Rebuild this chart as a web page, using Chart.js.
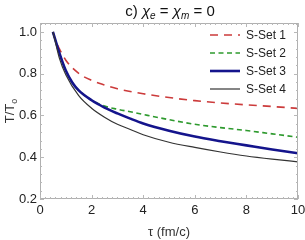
<!DOCTYPE html>
<html>
<head>
<meta charset="utf-8">
<script src="https://cdn.jsdelivr.net/npm/chart.js@4"></script>
<style>
  html, body { margin: 0; padding: 0; background: #fff; }
  #wrap { width: 305px; height: 240px; position: relative; }
</style>
</head>
<body>
<div id="wrap"><canvas id="chart" width="305" height="240"></canvas></div>
<script>
// data
const seriesNames = ["S-Set 1", "S-Set 2", "S-Set 3", "S-Set 4"];
const tauSet1 = [0.5, 0.6, 0.75, 1, 1.5, 2, 2.5, 3, 3.5, 4, 5, 6, 7, 8, 9, 10];
const tempSet1 = [1.0, 0.96, 0.92, 0.865, 0.802, 0.768, 0.746, 0.728, 0.715, 0.704, 0.686, 0.671, 0.66, 0.651, 0.643, 0.634];
const tauSet2 = [0.5, 0.6, 0.75, 1, 1.25, 1.5, 2, 2.5, 3, 3.5, 4, 5, 6, 7, 8, 9, 10];
const tempSet2 = [1.0, 0.96, 0.9, 0.815, 0.758, 0.72, 0.673, 0.645, 0.63, 0.618, 0.605, 0.58, 0.558, 0.542, 0.528, 0.512, 0.496];
const tauSet3 = [0.5, 0.6, 0.75, 1, 1.25, 1.5, 2, 2.5, 3, 3.5, 4, 5, 6, 7, 8, 9, 10];
const tempSet3 = [1.0, 0.96, 0.9, 0.815, 0.758, 0.72, 0.673, 0.638, 0.61, 0.585, 0.562, 0.527, 0.499, 0.477, 0.457, 0.437, 0.419];
const tauSet4 = [0.5, 0.6, 0.75, 1, 1.5, 2, 2.5, 3, 3.5, 4, 5, 6, 7, 8, 9, 10];
const tempSet4 = [1.0, 0.95, 0.875, 0.795, 0.695, 0.635, 0.592, 0.558, 0.533, 0.508, 0.472, 0.447, 0.425, 0.406, 0.391, 0.378];
const xTicks = [0, 2, 4, 6, 8, 10];
const yTicks = [0.2, 0.4, 0.6, 0.8, 1.0];

const FONT = "'Liberation Sans', Arial, sans-serif";

function pts(xs, ys) {
    return xs.map((x, i) => ({ x: x, y: ys[i] }));
}

// frame, inner ticks, title, axis labels and legend
const decor = {
    id: "decor",
    afterDraw(chart) {
        const ctx = chart.ctx;
        const a = chart.chartArea;
        const xs = chart.scales.x, ys = chart.scales.y;
        ctx.save();

        // frame
        ctx.strokeStyle = "#b0b0b0";
        ctx.lineWidth = 1;
        ctx.strokeRect(a.left + 0.5, a.top + 0.5, a.right - a.left - 1, a.bottom - a.top - 1);

        // ticks inside the frame
        ctx.strokeStyle = "#b8b8b8";
        ctx.beginPath();
        for (let i = 0; i <= 50; i++) {
            const v = i * 0.2;
            const px = Math.round(xs.getPixelForValue(v)) + 0.5;
            const len = (i % 10 === 0) ? 4 : 2;
            ctx.moveTo(px, a.bottom); ctx.lineTo(px, a.bottom - len);
            ctx.moveTo(px, a.top); ctx.lineTo(px, a.top + len);
        }
        for (let i = 0; i <= 21; i++) {
            const v = 0.2 + i * 0.04;
            if (v > ys.max) break;
            const py = Math.round(ys.getPixelForValue(v)) + 0.5;
            const len = (i % 5 === 0) ? 4 : 2;
            ctx.moveTo(a.left, py); ctx.lineTo(a.left + len, py);
            ctx.moveTo(a.right, py); ctx.lineTo(a.right - len, py);
        }
        ctx.stroke();

        // title: c) χe = χm = 0
        ctx.fillStyle = "#111";
        ctx.textAlign = "left";
        ctx.textBaseline = "alphabetic";
        const parts = [
            { t: "c) ", f: "15px " + FONT, dy: 0 },
            { t: "χ", f: "italic 15px " + FONT, dy: 0 },
            { t: "e", f: "italic 10px " + FONT, dy: 3 },
            { t: " = ", f: "15px " + FONT, dy: 0 },
            { t: "χ", f: "italic 15px " + FONT, dy: 0 },
            { t: "m", f: "italic 10px " + FONT, dy: 3 },
            { t: " = 0", f: "15px " + FONT, dy: 0 }
        ];
        let w = 0;
        parts.forEach(p => { ctx.font = p.f; w += ctx.measureText(p.t).width; });
        let x = 170 - w / 2;
        parts.forEach(p => {
            ctx.font = p.f;
            ctx.fillText(p.t, x, 16 + p.dy);
            x += ctx.measureText(p.t).width;
        });

        // y label T/To
        ctx.save();
        ctx.translate(14, 111);
        ctx.rotate(-Math.PI / 2);
        ctx.font = "13px " + FONT;
        const w1 = ctx.measureText("T/T").width;
        ctx.font = "9px " + FONT;
        const w2 = ctx.measureText("o").width;
        ctx.font = "13px " + FONT;
        ctx.fillStyle = "#333";
        ctx.fillText("T/T", -(w1 + w2) / 2, 0);
        ctx.font = "9px " + FONT;
        ctx.fillText("o", -(w1 + w2) / 2 + w1, 3);
        ctx.restore();

        // x label
        ctx.font = "13px " + FONT;
        ctx.fillStyle = "#333";
        ctx.textAlign = "center";
        ctx.fillText("τ (fm/c)", 169, 236);

        // legend
        ctx.textAlign = "left";
        ctx.textBaseline = "middle";
        ctx.font = "12px " + FONT;
        const legY = [35, 53, 71, 89];
        chart.data.datasets.forEach((ds, i) => {
            ctx.strokeStyle = ds.borderColor;
            ctx.lineWidth = ds.borderWidth;
            ctx.setLineDash(ds.borderDash || []);
            ctx.beginPath();
            ctx.moveTo(210, legY[i]);
            ctx.lineTo(240, legY[i]);
            ctx.stroke();
            ctx.setLineDash([]);
            ctx.fillStyle = "#222";
            ctx.fillText(ds.label, 246, legY[i] + 1);
        });
        ctx.restore();
    }
};

const ctx = document.getElementById("chart").getContext("2d");
new Chart(ctx, {
    type: "line",
    data: {
        datasets: [
            { label: seriesNames[0], data: pts(tauSet1, tempSet1), borderColor: "#cc3b3b", borderWidth: 1.6, borderDash: [8, 6], order: 4 },
            { label: seriesNames[1], data: pts(tauSet2, tempSet2), borderColor: "#2e9a2e", borderWidth: 1.6, borderDash: [5, 3.5], order: 3 },
            { label: seriesNames[2], data: pts(tauSet3, tempSet3), borderColor: "#14148c", borderWidth: 2.6, order: 2 },
            { label: seriesNames[3], data: pts(tauSet4, tempSet4), borderColor: "#333333", borderWidth: 1.2, order: 1 }
        ]
    },
    options: {
        responsive: false,
        animation: false,
        layout: { padding: { top: 23, right: 7, left: 0, bottom: 0 } },
        elements: {
            point: { radius: 0 },
            line: { cubicInterpolationMode: "monotone", fill: false }
        },
        plugins: { legend: { display: false }, title: { display: false }, tooltip: { enabled: false } },
        scales: {
            x: {
                type: "linear", min: 0, max: 10,
                grid: { display: false, drawTicks: false },
                border: { display: false },
                afterBuildTicks: s => { s.ticks = xTicks.map(v => ({ value: v })); },
                afterFit: s => { s.height = 41; s.paddingLeft = 0; s.paddingRight = 0; },
                ticks: { font: { size: 13, family: FONT }, color: "#222", padding: 4, maxRotation: 0 }
            },
            y: {
                type: "linear", min: 0.2, max: 1.043,
                grid: { display: false, drawTicks: false },
                border: { display: false },
                afterBuildTicks: s => { s.ticks = yTicks.map(v => ({ value: v })); },
                afterFit: s => { s.width = 40; s.paddingTop = 0; s.paddingBottom = 0; },
                ticks: { font: { size: 13, family: FONT }, color: "#222", padding: 3, callback: v => v.toFixed(1) }
            }
        }
    },
    plugins: [decor]
});
</script>
</body>
</html>
